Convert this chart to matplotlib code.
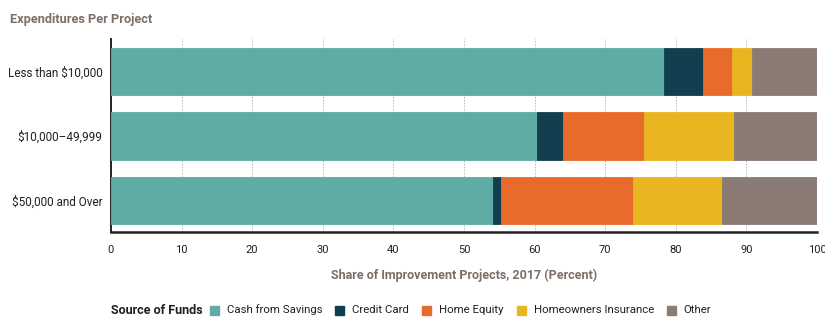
import matplotlib
matplotlib.use("Agg")
import matplotlib.pyplot as plt
import numpy as np
from matplotlib.patches import Rectangle

categories = ["Less than $10,000", "$10,000\u201349,999", "$50,000 and Over"]
series_names = ["Cash from Savings", "Credit Card", "Home Equity", "Homeowners Insurance", "Other"]
cash = [78.3, 60.3, 54.1]
credit = [5.5, 3.7, 1.2]
home_equity = [4.2, 11.5, 18.6]
insurance = [2.8, 12.8, 12.7]
other = [9.2, 11.7, 13.4]
xticks = [0, 10, 20, 30, 40, 50, 60, 70, 80, 90, 100]
colors = ["#5eaca4", "#123f50", "#e96b2c", "#e9b622", "#8a7c75"]

plt.rcParams['font.family'] = ['Roboto', 'DejaVu Sans']
title_color = "#7b6f68"
text_color = "#231f20"

fig = plt.figure(figsize=(8.25, 3.18), dpi=100)
ax = fig.add_axes([0.1345, 0.2704, 0.8558, 0.607])

data = [cash, credit, home_equity, insurance, other]
y = np.arange(len(categories))
left = np.zeros(len(categories))
for vals, c, name in zip(data, colors, series_names):
    ax.barh(y, vals, left=left, height=0.73, color=c, edgecolor=c, linewidth=0.6,
            label=name, zorder=3)
    left += np.array(vals)

ax.set_xlim(0, 100)
ax.set_ylim(2.49, -0.505)
ax.set_yticks(y)
ax.set_yticklabels(categories, fontsize=8.5, color=text_color)
ax.set_xticks(xticks)
ax.set_xticklabels([str(t) for t in xticks], fontsize=8, color=text_color)
ax.tick_params(axis='y', length=0, pad=6)
ax.tick_params(axis='x', length=0, pad=9)
for t in xticks[1:-1]:
    ax.axvline(t, color="#b8b8b8", linestyle=(0, (1.5, 1.5)), linewidth=0.7, zorder=1)
for s in ["top", "right"]:
    ax.spines[s].set_visible(False)
ax.spines["left"].set_linewidth(1.4)
ax.spines["bottom"].set_linewidth(1.8)
ax.spines["left"].set_color("#222222")
ax.spines["bottom"].set_color("#222222")

ax.set_xlabel("Share of Improvement Projects, 2017 (Percent)", fontsize=9,
              fontweight="bold", color=title_color, labelpad=10)
fig.text(10/825, 1 - 20/318, "Expenditures Per Project", fontsize=9.2,
         fontweight="bold", color=title_color, ha="left", va="center")

# legend drawn as a row
fig.canvas.draw()
renderer = fig.canvas.get_renderer()
ly = 1 - 310/318
x = 111/825
t = fig.text(x, ly, "Source of Funds", fontsize=9, fontweight="bold",
             color=text_color, ha="left", va="center")
bb = t.get_window_extent(renderer)
x = bb.x1/825 + 7/825
sq = 9
for name, c in zip(series_names, colors):
    fig.patches.append(Rectangle((x, ly - (sq/2)/318), sq/825, sq/318,
                                 transform=fig.transFigure, color=c, figure=fig))
    x += (sq + 8)/825
    t = fig.text(x, ly, name, fontsize=8.2, color=text_color, ha="left", va="center")
    bb = t.get_window_extent(renderer)
    x = bb.x1/825 + 13/825

fig.savefig("out.png", dpi=100)
